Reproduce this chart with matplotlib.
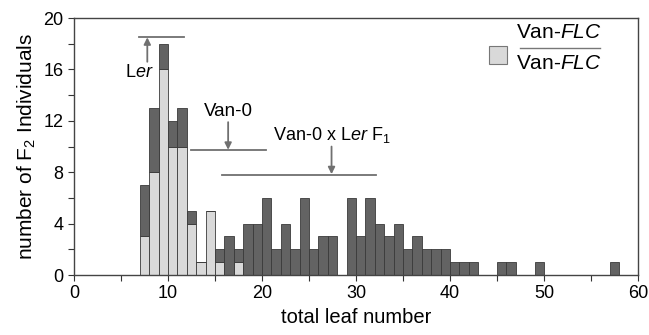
import matplotlib.pyplot as plt
import numpy as np

plt.rcParams['font.family'] = ['Liberation Sans', 'DejaVu Sans']
plt.rcParams['mathtext.fontset'] = 'custom'
plt.rcParams['mathtext.rm'] = 'Liberation Sans'
plt.rcParams['mathtext.it'] = 'Liberation Sans:italic'

# left bin edges (total leaf number), bins are 1 leaf wide
leaf_bins = list(range(7, 58))
# Van-FLC/Van-FLC individuals (light part of each bar)
light_counts = [3, 8, 16, 10, 10, 4, 1, 5, 1, 0, 1] + [0] * 40
# remaining F2 individuals (dark part, stacked on top)
dark_counts = [4, 5, 2, 2, 3, 1, 0, 0, 1, 3, 1,
               4, 4, 6, 2, 4, 2, 6, 2, 3, 3, 0,
               6, 3, 6, 4, 3, 4, 2, 3, 2, 2, 2,
               1, 1, 1, 0, 0, 1, 1, 0, 0, 1,
               0, 0, 0, 0, 0, 0, 0, 1]

light_col = '#d9d9d9'
dark_col = '#636363'
edge_col = '#3a3a3a'
arrow_col = '#707070'

fig = plt.figure(figsize=(6.49, 3.35), dpi=100)
ax = fig.add_axes([0.114, 0.179, 0.869, 0.767])

x = np.array(leaf_bins)
ax.bar(x, light_counts, width=1, align='edge', color=light_col,
       edgecolor=edge_col, linewidth=0.6)
ax.bar(x, dark_counts, width=1, align='edge', bottom=light_counts,
       color=dark_col, edgecolor=edge_col, linewidth=0.6)

ax.set_xlim(0, 60)
ax.set_ylim(0, 20)
ax.set_xticks(range(0, 61, 10))
ax.set_xticks(range(5, 60, 10), minor=True)
ax.set_yticks(range(0, 21, 4))
ax.set_yticks(range(2, 20, 4), minor=True)
ax.tick_params(which='both', direction='out', length=4, width=0.8,
               labelsize=13, color='#333333')
for s in ax.spines.values():
    s.set_color('#444444')
    s.set_linewidth(1.0)

ax.set_xlabel('total leaf number', fontsize=14.5, labelpad=4)
ax.set_ylabel('number of F$_2$ Individuals', fontsize=15, labelpad=4)

# parental / F1 ranges with arrows at their means
ax.plot([6.9, 11.7], [18.5, 18.5], color=arrow_col, lw=1.3)
ax.annotate('', xy=(7.8, 18.5), xytext=(7.8, 16.6),
            arrowprops=dict(arrowstyle='-|>', color=arrow_col, lw=1.3,
                            mutation_scale=10, shrinkA=0, shrinkB=0))
ax.text(7.0, 15.8, 'L$\\it{er}$', ha='center', va='center', fontsize=13)

ax.plot([12.4, 20.4], [9.7, 9.7], color=arrow_col, lw=1.3)
ax.annotate('', xy=(16.4, 9.75), xytext=(16.4, 11.9),
            arrowprops=dict(arrowstyle='-|>', color=arrow_col, lw=1.3,
                            mutation_scale=10, shrinkA=0, shrinkB=0))
ax.text(16.4, 12.75, 'Van-0', ha='center', va='center', fontsize=13.5)

ax.plot([15.7, 32.1], [7.8, 7.8], color=arrow_col, lw=1.3)
ax.annotate('', xy=(27.4, 7.85), xytext=(27.4, 10.0),
            arrowprops=dict(arrowstyle='-|>', color=arrow_col, lw=1.3,
                            mutation_scale=10, shrinkA=0, shrinkB=0))
ax.text(27.4, 10.9, 'Van-0 x L$\\it{er}$ F$_1$', ha='center', va='center',
        fontsize=13)

# legend: light square with genotype fraction
ax.add_patch(plt.Rectangle((44.2, 16.4), 1.9, 1.45, facecolor=light_col,
                           edgecolor='#777777', lw=0.8))
ax.text(51.6, 18.85, 'Van-$\\it{FLC}$', ha='center', va='center', fontsize=15)
ax.plot([47.5, 56.0], [17.65, 17.65], color='#777777', lw=1.0)
ax.text(51.6, 16.5, 'Van-$\\it{FLC}$', ha='center', va='center', fontsize=15)

fig.savefig('out.png', dpi=100)
